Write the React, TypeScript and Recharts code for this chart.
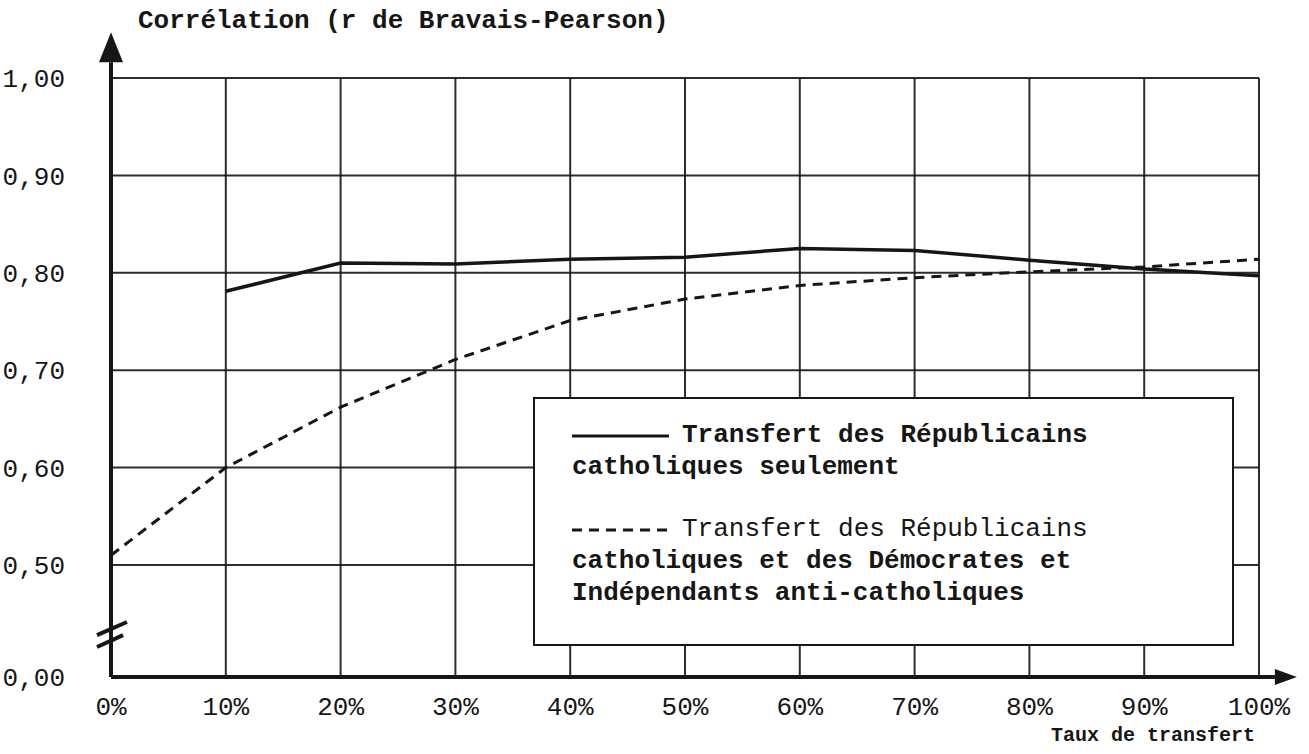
import { LineChart, Line, XAxis, YAxis, CartesianGrid, ReferenceLine, Label } from "recharts";

const INK = "#161616";
const FONT = "'Liberation Mono', 'DejaVu Sans Mono', monospace";

// taux de transfert (%)
const TRANSFER = [0, 10, 20, 30, 40, 50, 60, 70, 80, 90, 100];
const X_LABELS = ["0%", "10%", "20%", "30%", "40%", "50%", "60%", "70%", "80%", "90%", "100%"];

// r de Bravais-Pearson
const ONLY_CATHOLIC = [null, 0.781, 0.81, 0.809, 0.814, 0.816, 0.825, 0.823, 0.813, 0.804, 0.797];
const WITH_DEMOCRATS = [0.51, 0.6, 0.662, 0.711, 0.751, 0.773, 0.787, 0.795, 0.801, 0.806, 0.814];

// the axis is broken: 0,00 sits one (slightly larger) step under 0,50
const Y_BREAK = 0.385;
const Y_TICKS = [Y_BREAK, 0.5, 0.6, 0.7, 0.8, 0.9, 1.0];
const Y_LABELS = ["0,00", "0,50", "0,60", "0,70", "0,80", "0,90", "1,00"];

const TITLE = "Corrélation (r de Bravais-Pearson)";
const X_TITLE = "Taux de transfert";

const LEGEND = [
  { dashed: false, lines: ["Transfert des Républicains", "catholiques seulement"] },
  {
    dashed: true,
    lines: ["Transfert des Républicains", "catholiques et des Démocrates et", "Indépendants anti-catholiques"],
  },
];

const data = TRANSFER.map((t, i) => ({ t, solid: ONLY_CATHOLIC[i], dashed: WITH_DEMOCRATS[i] }));

function arrowShape(len: number, half: number) {
  return (props: any) => {
    const { x1, y1, x2, y2 } = props;
    const a = Math.atan2(y2 - y1, x2 - x1);
    const bx = x2 - len * Math.cos(a);
    const by = y2 - len * Math.sin(a);
    const px = -Math.sin(a) * half;
    const py = Math.cos(a) * half;
    return (
      <g>
        <line x1={x1} y1={y1} x2={bx} y2={by} stroke={INK} strokeWidth={4} />
        <path d={`M${x2},${y2} L${bx + px},${by + py} L${bx - px},${by - py} Z`} fill={INK} />
      </g>
    );
  };
}

function Legend() {
  return (
    <div
      style={{
        position: "absolute",
        left: 533,
        top: 397,
        width: 660,
        height: 225,
        border: `2px solid ${INK}`,
        background: "#fff",
        paddingLeft: 37,
        paddingTop: 20,
        boxSizing: "content-box",
        fontFamily: FONT,
        fontSize: 26,
        fontWeight: "bold",
        color: INK,
        lineHeight: "32px",
        whiteSpace: "pre",
      }}
    >
      {LEGEND.map((item, k) => (
        <div key={k} style={{ marginTop: k === 0 ? 0 : 30 }}>
          {item.lines.map((txt, j) => (
            <div key={j} style={{ height: 32, display: "flex", alignItems: "center" }}>
              {j === 0 && (
                <svg width={110} height={32} style={{ flexShrink: 0 }}>
                  <line
                    x1={0}
                    y1={17}
                    x2={97}
                    y2={17}
                    stroke={INK}
                    strokeWidth={3}
                    strokeDasharray={item.dashed ? "10 7" : undefined}
                  />
                </svg>
              )}
              <span style={{ fontWeight: item.dashed && j === 0 ? "normal" : "bold" }}>{txt}</span>
            </div>
          ))}
        </div>
      ))}
    </div>
  );
}

export default function App() {
  return (
    <div style={{ position: "absolute", left: 0, top: 0, width: 1309, height: 754, background: "#fff", fontFamily: FONT }}>
      <div
        style={{
          position: "absolute",
          left: 138,
          top: 6,
          fontSize: 26,
          lineHeight: "30px",
          fontWeight: "bold",
          color: INK,
          whiteSpace: "pre",
        }}
      >
        {TITLE}
      </div>
      <LineChart width={1309} height={754} data={data} margin={{ top: 78, right: 50, left: 11, bottom: 17 }}>
        <CartesianGrid stroke={INK} strokeWidth={2} strokeOpacity={0.9} />
        <XAxis
          dataKey="t"
          type="number"
          domain={[0, 100]}
          ticks={TRANSFER}
          tickFormatter={(v: number) => X_LABELS[TRANSFER.indexOf(v)]}
          axisLine={false}
          tickLine={false}
          tickMargin={14}
          height={60}
          tick={{ fill: INK, fontSize: 26, fontFamily: FONT }}
        >
          <Label
            value={X_TITLE}
            position="insideBottomRight"
            offset={0}
            dx={-4}
            dy={4}
            style={{ fill: INK, fontSize: 20, fontFamily: FONT, fontWeight: "bold" }}
          />
        </XAxis>
        <YAxis
          type="number"
          domain={[Y_BREAK, 1]}
          ticks={Y_TICKS}
          tickFormatter={(v: number) => Y_LABELS[Y_TICKS.indexOf(v)]}
          axisLine={false}
          tickLine={false}
          tickMargin={40}
          width={100}
          tick={{ fill: INK, fontSize: 26, fontFamily: FONT }}
        />
        <ReferenceLine
          segment={[{ x: 0, y: Y_BREAK }, { x: 0, y: 1.047 }]}
          ifOverflow="visible"
          shape={arrowShape(30, 12)}
        />
        <ReferenceLine
          segment={[{ x: 0, y: Y_BREAK }, { x: 103.3, y: Y_BREAK }]}
          ifOverflow="visible"
          shape={arrowShape(22, 8)}
        />
        <ReferenceLine
          segment={[{ x: -1.22, y: 0.428 }, { x: 1.39, y: 0.4415 }]}
          ifOverflow="visible"
          stroke={INK}
          strokeWidth={4}
        />
        <ReferenceLine
          segment={[{ x: -1.22, y: 0.4158 }, { x: 1.05, y: 0.428 }]}
          ifOverflow="visible"
          stroke={INK}
          strokeWidth={4}
        />
        <Line
          dataKey="solid"
          stroke={INK}
          strokeWidth={3.5}
          dot={false}
          connectNulls={false}
          isAnimationActive={false}
        />
        <Line
          dataKey="dashed"
          stroke={INK}
          strokeWidth={3}
          strokeDasharray="10 7"
          dot={false}
          isAnimationActive={false}
        />
      </LineChart>
      <Legend />
    </div>
  );
}
